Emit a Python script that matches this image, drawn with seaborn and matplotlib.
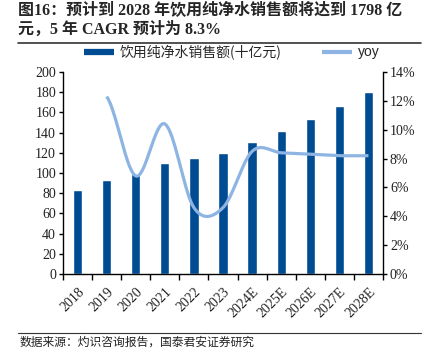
import numpy as np
import pandas as pd
import matplotlib
matplotlib.use("Agg")
import matplotlib.pyplot as plt
from matplotlib.lines import Line2D
import seaborn as sns

years = ["2018", "2019", "2020", "2021", "2022", "2023",
         "2024E", "2025E", "2026E", "2027E", "2028E"]
sales = [83, 93, 99, 110, 115, 120, 131, 142, 153, 166, 179.8]
yoy_years = years[1:]
yoy = [12.3, 6.8, 10.4, 4.6, 4.6, 8.5, 8.4, 8.3, 8.2, 8.2]
left_ticks = list(range(0, 201, 20))
right_ticks = list(range(0, 15, 2))

BAR = "#004C93"
LINE = "#8DB4E2"

sns.set_theme(style="white")
plt.rcParams["font.family"] = ["Liberation Serif", "Noto Sans CJK SC", "DejaVu Sans"]

fig = plt.figure(figsize=(4.31, 3.48), dpi=100)
ax = fig.add_axes([63/431, 1-274/348, (383-63)/431, (274-72)/348])

df = pd.DataFrame({"year": years, "sales": sales})
sns.barplot(data=df, x="year", y="sales", color=BAR, width=0.32,
            saturation=1, ax=ax, zorder=2)
ax.set_xlim(-0.5, len(years) - 0.5)
ax.set_ylim(0, 200)
ax.set_yticks(left_ticks)
ax.set_xlabel("")
ax.set_ylabel("")

ax2 = ax.twinx()
ax2.set_ylim(0, 14)
ax2.set_yticks(right_ticks)
ax2.set_yticklabels([f"{t}%" for t in right_ticks])

# smooth (Excel-like) line through the yoy points
xs = np.array([years.index(y) for y in yoy_years], dtype=float)
ys = np.array(yoy, dtype=float)
n = len(xs)
m = np.zeros(n)
for i in range(n):
    if i == 0:
        m[i] = (ys[1] - ys[0]) / 2
    elif i == n - 1:
        m[i] = (ys[-1] - ys[-2]) / 2
    else:
        m[i] = (ys[i + 1] - ys[i - 1]) / 2
cx, cy = [], []
for i in range(n - 1):
    t = np.linspace(0, 1, 40)
    h00 = 2*t**3 - 3*t**2 + 1
    h10 = t**3 - 2*t**2 + t
    h01 = -2*t**3 + 3*t**2
    h11 = t**3 - t**2
    cx.extend(xs[i] + t)
    cy.extend(h00*ys[i] + h10*m[i] + h01*ys[i+1] + h11*m[i+1])
ax2.plot(cx, cy, color=LINE, lw=2.3, solid_capstyle="butt", zorder=3)

for a in (ax, ax2):
    for s in a.spines.values():
        s.set_visible(False)
ax.spines["left"].set_visible(True)
ax.spines["left"].set_color("black")
ax.spines["left"].set_linewidth(1.0)
ax.spines["bottom"].set_visible(True)
ax.spines["bottom"].set_color("black")
ax.spines["bottom"].set_linewidth(1.0)
ax2.spines["right"].set_visible(True)
ax2.spines["right"].set_color("black")
ax2.spines["right"].set_linewidth(1.0)

ax.tick_params(axis="y", direction="out", length=3, width=1, color="black",
               labelsize=10, pad=2, left=True, labelcolor="#222222")
ax2.tick_params(axis="y", direction="out", length=3, width=1, color="black",
                labelsize=10, pad=2, right=True, labelcolor="#222222")
ax.set_xticks(np.arange(len(years)))
ax.set_xticklabels(years, rotation=45, ha="right", rotation_mode="anchor",
                   fontsize=10, color="#222222")
ax.tick_params(axis="x", which="major", length=0, pad=8)
ax.set_xticks(np.arange(-0.5, len(years), 1.0), minor=True)
ax.tick_params(axis="x", which="minor", direction="out", length=4, width=1,
               color="black", bottom=True)
ax.grid(False)
ax2.grid(False)

handles = [Line2D([], [], color=BAR, lw=4.5, solid_capstyle="butt"),
           Line2D([], [], color=LINE, lw=3, solid_capstyle="butt")]
leg = fig.legend(handles, ["饮用纯净水销售额(十亿元)", "yoy"], ncol=2,
                 loc="center", bbox_to_anchor=(232/431, 1-52/348),
                 frameon=False, fontsize=10, handlelength=2.16,
                 handletextpad=0.4, columnspacing=2.9,
                 borderaxespad=0, borderpad=0)
leg.get_texts()[0].set_fontfamily(["Noto Sans CJK SC"])
leg.get_texts()[0].set_fontsize(10)
leg.get_texts()[0].set_fontweight("light")
leg.get_texts()[1].set_fontfamily(["Liberation Sans"])
leg.get_texts()[1].set_fontsize(10)

title_font = ["Liberation Serif", "Noto Sans CJK SC"]
fig.text(18/431, 1-11/348, "图16：预计到 2028 年饮用纯净水销售额将达到 1798 亿",
         fontsize=11.5, fontweight="bold", family=title_font, va="center", ha="left")
fig.text(18/431, 1-30/348, "元，5 年 CAGR 预计为 8.3%",
         fontsize=11.5, fontweight="bold", family=title_font, va="center", ha="left")
fig.add_artist(Line2D([18/431, 421/431], [1-43/348, 1-43/348],
                      transform=fig.transFigure, color="#333333", lw=1.2))
fig.add_artist(Line2D([18/431, 421/431], [1-333/348, 1-333/348],
                      transform=fig.transFigure, color="#333333", lw=0.8))
fig.text(20/431, 1-336/348, "数据来源：灼识咨询报告，国泰君安证券研究",
         fontsize=8.5, family=["Noto Sans CJK SC"], va="top", ha="left",
         color="#222222")

fig.savefig("out.png", dpi=100)
